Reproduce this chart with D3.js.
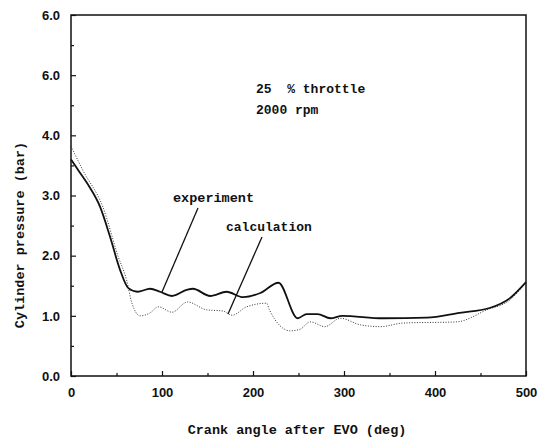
<!DOCTYPE html>
<html>
<head>
<meta charset="utf-8">
<script src="https://cdn.jsdelivr.net/npm/d3@7"></script>
<style>
  body { margin: 0; background: #fff; }
  text { fill: #111; }
  .mono { font-family: "Liberation Mono", "DejaVu Sans Mono", monospace; font-weight: bold; }
  .tick text { font-family: "Liberation Sans", Arial, sans-serif; font-weight: bold; font-size: 13px; }
</style>
</head>
<body>
<svg id="chart" width="548" height="440"></svg>
<script>
// valores (angulo em graus, pressao em bar)
const anguloExperimento = [0, 8, 20, 32, 43, 54, 63, 73, 87, 98, 111, 127, 134, 153, 171, 189, 208, 228, 249, 259, 271, 285, 298, 343, 391, 427, 460, 482, 500];
const pressaoExperimento = [3.6, 3.42, 3.15, 2.81, 2.31, 1.76, 1.46, 1.40, 1.45, 1.40, 1.33, 1.43, 1.45, 1.33, 1.40, 1.31, 1.38, 1.55, 0.96, 1.03, 1.03, 0.96, 1.0, 0.96, 0.97, 1.05, 1.13, 1.29, 1.56];

const anguloCalculo = [0, 13, 35, 52, 61, 67, 76, 87, 96, 111, 128, 149, 167, 177, 193, 215, 218, 241, 252, 263, 279, 296, 318, 340, 365, 424, 457, 482, 500];
const pressaoCalculo = [3.82, 3.42, 2.81, 1.98, 1.6, 1.21, 1.0, 1.05, 1.15, 1.06, 1.23, 1.10, 1.08, 1.01, 1.15, 1.21, 1.10, 0.75, 0.78, 0.90, 0.82, 0.96, 0.85, 0.82, 0.88, 0.90, 1.1, 1.26, 1.56];

const ticksX = [0, 100, 200, 300, 400, 500];
const ticksY = [0, 1, 2, 3, 4, 5, 6];
// rotulos como impressos no original (o 5.0 aparece como 6.0)
const rotulosY = ["0.0", "1.0", "2.0", "3.0", "4.0", "6.0", "6.0"];

const svg = d3.select("#chart");
const margem = { left: 71, right: 22, top: 15, bottom: 64 };
const largura = 548 - margem.left - margem.right;
const altura = 440 - margem.top - margem.bottom;

const g = svg.append("g").attr("transform", `translate(${margem.left},${margem.top})`);

const x = d3.scaleLinear().domain([0, 500]).range([0, largura]);
const y = d3.scaleLinear().domain([0, 6]).range([altura, 0]);

// moldura
g.append("rect")
    .attr("width", largura).attr("height", altura)
    .attr("fill", "none").attr("stroke", "#111").attr("stroke-width", 1.5);

// eixo X
const eixoX = g.append("g").attr("transform", `translate(0,${altura})`)
    .call(d3.axisBottom(x).tickValues(ticksX).tickFormat(d => d).tickSize(-5).tickPadding(12));
eixoX.select(".domain").remove();
g.append("g").attr("transform", `translate(0,${altura})`)
    .call(d3.axisBottom(x).tickValues(d3.range(50, 500, 100)).tickFormat("").tickSize(-3))
    .select(".domain").remove();

// eixo Y
const eixoY = g.append("g")
    .call(d3.axisLeft(y).tickValues(ticksY).tickFormat((d, i) => rotulosY[i]).tickSize(-5).tickPadding(11));
eixoY.select(".domain").remove();
g.append("g")
    .call(d3.axisLeft(y).tickValues(d3.range(0.5, 6, 1)).tickFormat("").tickSize(-3))
    .select(".domain").remove();

g.selectAll(".tick line").attr("stroke", "#111").attr("stroke-width", 1.2);

// curvas
const linha = d3.line().x(d => x(d[0])).y(d => y(d[1])).curve(d3.curveMonotoneX);

g.append("path")
    .datum(d3.zip(anguloCalculo, pressaoCalculo))
    .attr("d", linha)
    .attr("fill", "none").attr("stroke", "#333").attr("stroke-width", 1)
    .attr("stroke-dasharray", "1,1.6");

g.append("path")
    .datum(d3.zip(anguloExperimento, pressaoExperimento))
    .attr("d", linha)
    .attr("fill", "none").attr("stroke", "#111").attr("stroke-width", 1.8);

// titulos dos eixos
svg.append("text").attr("class", "mono")
    .attr("x", 297).attr("y", 434).attr("text-anchor", "middle")
    .style("font-size", "13.5px")
    .text("Crank angle after EVO (deg)");

svg.append("text").attr("class", "mono")
    .attr("transform", "translate(24,235) rotate(-90)").attr("text-anchor", "middle")
    .style("font-size", "13.5px")
    .text("Cylinder pressure (bar)");

// anotacoes
svg.append("text").attr("class", "mono").attr("x", 256).attr("y", 93)
    .style("font-size", "13px").attr("xml:space", "preserve").text("25  % throttle");
svg.append("text").attr("class", "mono").attr("x", 256).attr("y", 114)
    .style("font-size", "13px").text("2000 rpm");

svg.append("text").attr("class", "mono").attr("x", 173).attr("y", 202)
    .style("font-size", "13.5px").text("experiment");
svg.append("text").attr("class", "mono").attr("x", 226).attr("y", 231)
    .style("font-size", "13px").text("calculation");

// linhas de chamada
svg.append("line").attr("x1", 198).attr("y1", 208).attr("x2", 162).attr("y2", 292)
    .attr("stroke", "#111").attr("stroke-width", 1.3);
svg.append("line").attr("x1", 262).attr("y1", 237).attr("x2", 228).attr("y2", 314)
    .attr("stroke", "#111").attr("stroke-width", 1.3);
</script>
</body>
</html>
